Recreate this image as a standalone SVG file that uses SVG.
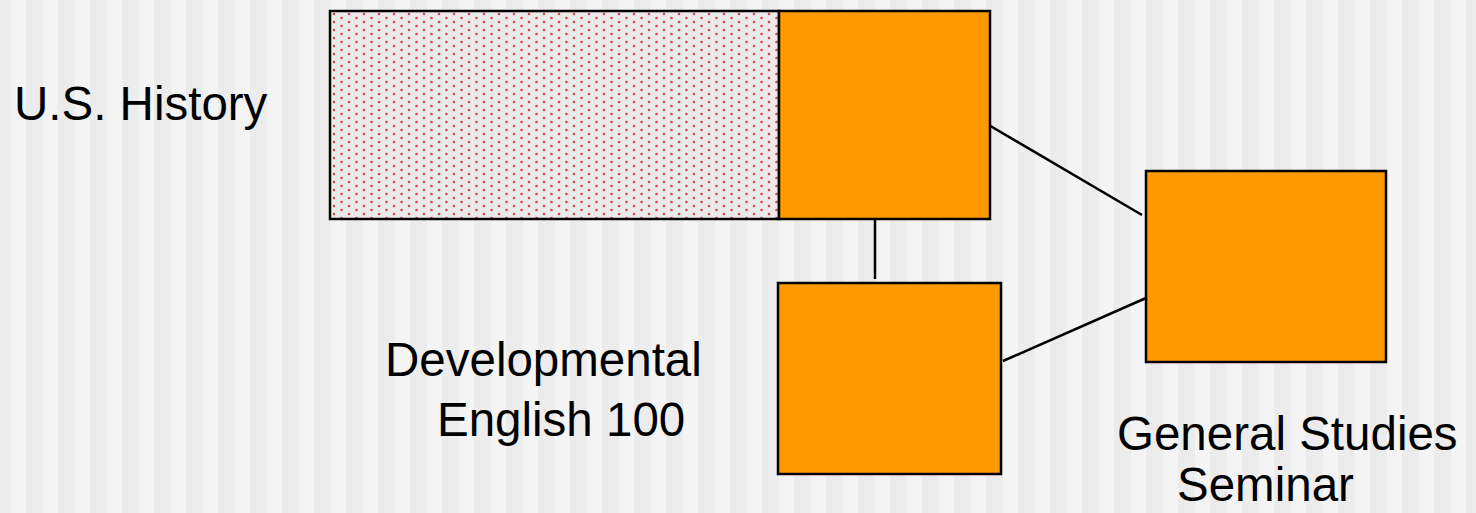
<svg xmlns="http://www.w3.org/2000/svg" width="1476" height="513" viewBox="0 0 1476 513">
  <defs>
    <!-- vertical striped slide background -->
    <pattern id="stripes" x="-6" y="0" width="32" height="513" patternUnits="userSpaceOnUse">
      <rect x="0" y="0" width="17" height="513" fill="#ececec"/>
      <rect x="17" y="0" width="15" height="513" fill="#f4f4f4"/>
    </pattern>
    <!-- fine red dot fill -->
    <pattern id="dots" x="331" y="12" width="15" height="8" patternUnits="userSpaceOnUse">
      <rect width="15" height="8" fill="#ebe9e9"/>
      <circle cx="3" cy="2" r="1.3" fill="#d04a50"/>
      <circle cx="10.5" cy="6" r="1.3" fill="#d04a50"/>
    </pattern>
    <style>
      .box { fill: #ff9900; stroke: #000; stroke-width: 2.5; }
      .link { stroke: #000; stroke-width: 2.5; fill: none; }
      .lbl { font-family: "Liberation Sans", Arial, sans-serif; font-size: 47.5px; fill: #000; }
    </style>
  </defs>

  <rect x="0" y="0" width="1476" height="513" fill="url(#stripes)"/>

  <g id="connectors">
    <line class="link" x1="987" y1="124" x2="1142" y2="215"/>
    <line class="link" x1="875" y1="220" x2="875" y2="279"/>
    <line class="link" x1="1003" y1="361" x2="1146" y2="298"/>
  </g>

  <g id="us-history">
    <rect x="330" y="11" width="449" height="208" fill="url(#dots)" stroke="#000" stroke-width="2.5"/>
    <rect class="box" x="779" y="11" width="211" height="208"/>
    <text class="lbl" x="14" y="120">U.S. History</text>
  </g>

  <g id="developmental-english">
    <rect class="box" x="778" y="283" width="223" height="191"/>
    <text class="lbl" x="385" y="376">Developmental</text>
    <text class="lbl" x="437" y="436">English 100</text>
  </g>

  <g id="general-studies">
    <rect class="box" x="1146" y="171" width="240" height="191"/>
    <text class="lbl" x="1117" y="450">General Studies</text>
    <text class="lbl" x="1177" y="501">Seminar</text>
  </g>
</svg>
